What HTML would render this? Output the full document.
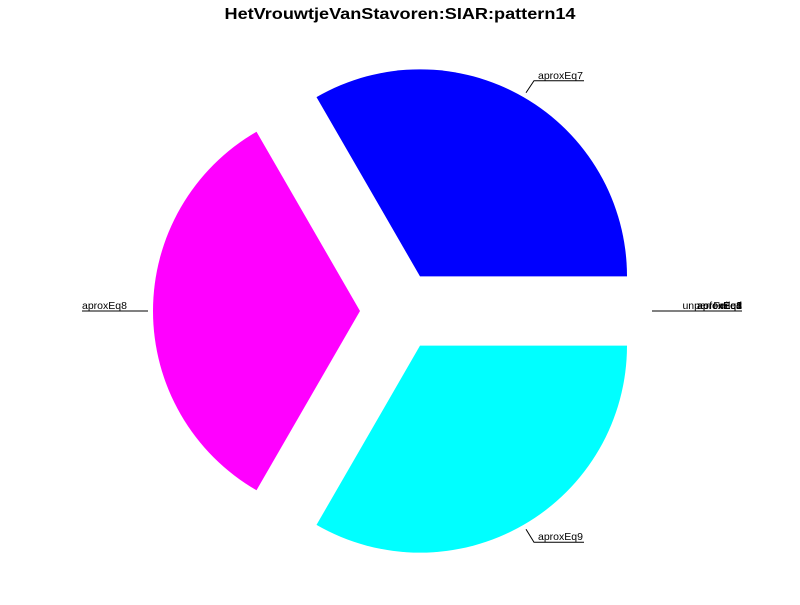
<!DOCTYPE html>
<html><head><meta charset="utf-8"><style>
body{margin:0;background:#fff;width:800px;height:600px;overflow:hidden}
text{font-family:"Liberation Sans",sans-serif}
</style></head><body>
<svg id="chart" width="800" height="600" xmlns="http://www.w3.org/2000/svg">
<text x="400" y="19" text-anchor="middle" font-size="16" font-weight="bold" textLength="351" lengthAdjust="spacingAndGlyphs">HetVrouwtjeVanStavoren:SIAR:pattern14</text>
</svg>
<script>
const categories = ["aproxEq7","aproxEq8","aproxEq9","aproxEq1","aproxEq2","aproxEq3","aproxEq4","unperformed","Failed"];
const values = [1,1,1,0,0,0,0,0,0];
const colors = ["#0000ff","#ff00ff","#00ffff","#ff0000","#00ff00","#ffff00","#000000","#888888","#444444"];
const svg=document.getElementById('chart');
const NS='http://www.w3.org/2000/svg';
const cx=400, cy=311, r=207, ex=40;
const total=values.reduce((a,b)=>a+b,0);
let ang=0;
categories.forEach((c,i)=>{
  const sweep=values[i]/total*2*Math.PI;
  const mid=ang+sweep/2;
  const ox=cx+ex*Math.cos(mid), oy=cy-ex*Math.sin(mid);
  if(sweep>0){
    const x1=ox+r*Math.cos(ang), y1=oy-r*Math.sin(ang);
    const x2=ox+r*Math.cos(ang+sweep), y2=oy-r*Math.sin(ang+sweep);
    const p=document.createElementNS(NS,'path');
    p.setAttribute('d',`M${ox},${oy}L${x1},${y1}A${r},${r} 0 ${sweep>Math.PI?1:0} 0 ${x2},${y2}Z`);
    p.setAttribute('fill',colors[i]);
    
    
    svg.appendChild(p);
  }
  const cs=Math.cos(mid), sn=Math.sin(mid);
  const ax=ox+(r+5)*cs, ay=oy-(r+5)*sn;
  const right=cs>=0;
  const g=document.createElementNS(NS,'g');
  
  
  let tx, ty, anchor;
  if(Math.abs(sn)<0.01){
    if(right){tx=742;anchor='end';g.innerHTML=`<line x1="652" y1="${cy}" x2="742" y2="${cy}" stroke="#000"/>`;}
    else{tx=82;anchor='start';g.innerHTML=`<line x1="82" y1="${cy}" x2="148" y2="${cy}" stroke="#000"/>`;}
    ty=cy-2;
  } else {
    const yy=sn>0?ay-12:ay+13;
    const xx=ax+8*(right?1:-1);
    const x3=xx+(right?50:-50);
    g.innerHTML=`<polyline points="${ax},${ay} ${xx},${yy} ${x3},${yy}" fill="none" stroke="#000"/>`;
    tx=right?xx+4:xx-4;anchor=right?'start':'end';ty=yy-2;
  }
  const t=document.createElementNS(NS,'text');
  t.setAttribute('x',tx);t.setAttribute('y',ty);
  t.setAttribute('font-size','10.5');t.setAttribute('text-anchor',anchor);
  t.textContent=c;
  g.appendChild(t);
  svg.appendChild(g);
  ang+=sweep;
});
</script>
</body></html>
